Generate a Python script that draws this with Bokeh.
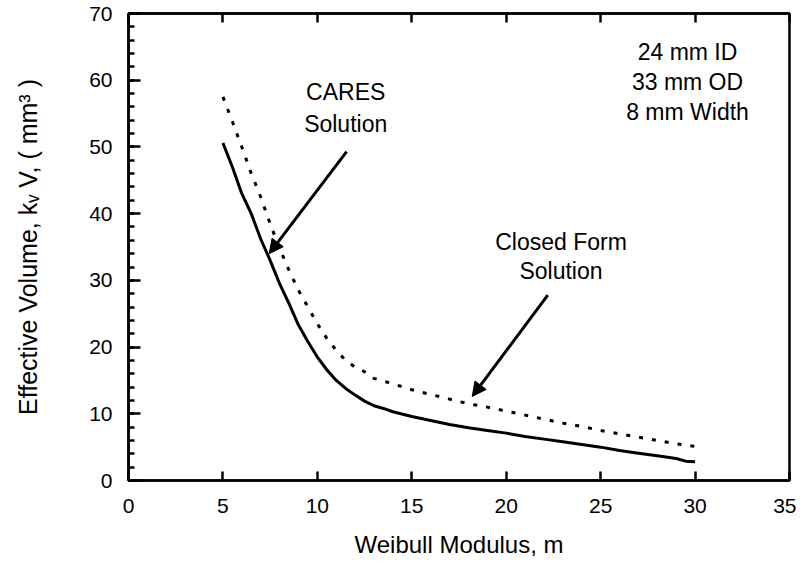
from bokeh.plotting import figure
from bokeh.models import (Range1d, SingleIntervalTicker, LinearAxis, Label, Arrow, NormalHead)
from bokeh.embed import file_html
from bokeh.resources import INLINE

# CARES solution (solid)
cares_m = [5.0, 5.5, 6.0, 6.5, 7.0, 7.5, 8.0, 8.5, 9.0, 9.5, 10.0, 10.5, 11.0, 11.5, 12.0, 12.5,
           13.0, 13.5, 14.0, 15.0, 16.0, 17.0, 18.0, 19.0, 20.0, 21.0, 22.0, 23.0, 24.0, 25.0,
           26.0, 27.0, 28.0, 29.0, 29.5, 30.0]
cares_kv = [50.6, 47.0, 43.0, 40.0, 36.2, 33.0, 29.5, 26.5, 23.3, 20.8, 18.5, 16.6, 15.0, 13.8, 12.8, 11.9,
            11.2, 10.8, 10.3, 9.6, 9.0, 8.4, 7.9, 7.5, 7.1, 6.6, 6.2, 5.8, 5.4, 5.0,
            4.5, 4.1, 3.7, 3.3, 2.9, 2.8]

# Closed form solution (dotted)
closed_m = [5.0, 5.5, 6.0, 6.5, 7.0, 7.5, 8.0, 8.5, 9.0, 9.5, 10.0, 10.5, 11.0, 11.5, 12.0, 12.5,
            13.0, 14.0, 15.0, 16.0, 17.0, 18.0, 19.0, 20.0, 21.0, 22.0, 23.0, 24.0, 25.0, 26.0,
            27.0, 28.0, 29.0, 30.0]
closed_kv = [57.5, 53.8, 50.0, 46.0, 42.5, 38.5, 34.8, 31.5, 28.5, 26.0, 23.5, 21.3, 19.5, 18.0, 17.0, 16.3,
             15.3, 14.5, 13.6, 12.9, 12.2, 11.5, 11.0, 10.4, 9.8, 9.2, 8.6, 8.1, 7.5, 7.0,
             6.5, 6.0, 5.5, 5.1]

x_label = "Weibull Modulus, m"
y_label = "Effective Volume, kᵥ V, ( mm³ )"
geom_lines = ["24 mm ID", "33 mm OD", "8 mm Width"]

FONT = "Liberation Sans"

p = figure(width=796, height=566, output_backend="svg", toolbar_location=None,
           x_range=Range1d(0, 35), y_range=Range1d(0, 70),
           min_border_left=128, min_border_right=7, min_border_top=13, min_border_bottom=86)
p.grid.visible = False
p.outline_line_color = "black"
p.outline_line_width = 2.5
p.background_fill_color = "white"

# x axis
xa = p.xaxis[0]
xa.ticker = SingleIntervalTicker(interval=5, num_minor_ticks=0)
xa.major_tick_in = 9
xa.major_tick_out = 0
xa.major_tick_line_width = 2.5
xa.minor_tick_line_color = None
xa.axis_line_width = 2.5
xa.major_label_standoff = 18
xa.major_label_text_font = FONT
xa.major_label_text_font_size = "21px"
xa.major_label_text_color = "black"
xa.axis_label = x_label
xa.axis_label_text_font = FONT
xa.axis_label_text_font_size = "24px"
xa.axis_label_text_font_style = "normal"
xa.axis_label_text_color = "black"
xa.axis_label_standoff = 15

# y axis
ya = p.yaxis[0]
ya.ticker = SingleIntervalTicker(interval=10, num_minor_ticks=5)
ya.major_tick_in = 12
ya.major_tick_out = 0
ya.minor_tick_in = 6
ya.minor_tick_out = 0
ya.major_tick_line_width = 2.5
ya.minor_tick_line_width = 2.5
ya.axis_line_width = 2.5
ya.major_label_standoff = 16
ya.major_label_text_font = FONT
ya.major_label_text_font_size = "21px"
ya.major_label_text_color = "black"
ya.axis_label = y_label
ya.axis_label_text_font = FONT
ya.axis_label_text_font_size = "25px"
ya.axis_label_text_font_style = "normal"
ya.axis_label_text_color = "black"
ya.axis_label_standoff = 44

# top axis: ticks only
ta = LinearAxis(ticker=SingleIntervalTicker(interval=5, num_minor_ticks=0),
                major_tick_in=9, major_tick_out=0, major_tick_line_width=2.5,
                minor_tick_line_color=None, axis_line_width=2.5,
                major_label_text_color=None, major_label_text_font_size="1px",
                major_label_standoff=0)
p.add_layout(ta, "above")

# curves
p.line(cares_m, cares_kv, line_color="black", line_width=3)
p.line(closed_m, closed_kv, line_color="black", line_width=3, line_dash="4 9")

# arrows
p.add_layout(Arrow(end=NormalHead(size=14, fill_color="black", line_color="black"),
                   x_start=11.55, y_start=49.3, x_end=7.45, y_end=34.0,
                   line_width=3, line_color="black"))
p.add_layout(Arrow(end=NormalHead(size=14, fill_color="black", line_color="black"),
                   x_start=22.2, y_start=27.8, x_end=18.2, y_end=12.6,
                   line_width=3, line_color="black"))

def lab(x, y, t):
    p.add_layout(Label(x=x, y=y, text=t, text_font=FONT, text_font_size="23px",
                       text_align="center", text_baseline="middle", text_color="black"))

lab(11.5, 58.3, "CARES")
lab(11.5, 53.4, "Solution")
lab(22.9, 35.8, "Closed Form")
lab(22.9, 31.4, "Solution")
lab(29.6, 64.3, geom_lines[0])
lab(29.6, 59.8, geom_lines[1])
lab(29.6, 55.3, geom_lines[2])

open("out.html", "w").write(file_html(p, INLINE))
